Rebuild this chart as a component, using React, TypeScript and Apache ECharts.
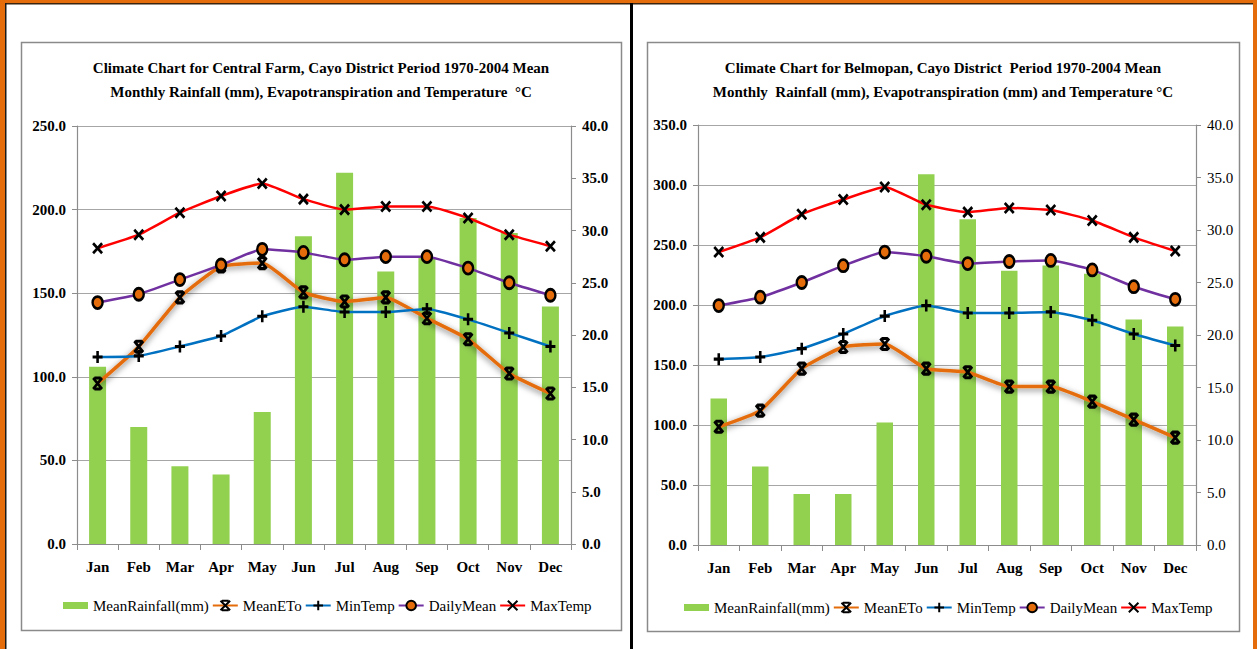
import React, { useEffect, useRef } from 'react';
import * as echarts from 'echarts';

// Months on the category axis
const months = ['Jan', 'Feb', 'Mar', 'Apr', 'May', 'Jun', 'Jul', 'Aug', 'Sep', 'Oct', 'Nov', 'Dec'];

// Central Farm, Cayo District (1970-2004)
const cfRainfall = [106, 70, 46.5, 41.5, 79, 184, 222, 163, 171, 195, 186, 142];
const cfEto = [96, 118, 147.5, 166, 168, 150.5, 145, 147.5, 135, 122.5, 102, 90];
const cfMinTemp = [17.9, 18.0, 18.9, 19.9, 21.8, 22.7, 22.2, 22.2, 22.5, 21.5, 20.2, 18.9];
const cfDailyMean = [23.1, 23.9, 25.3, 26.7, 28.2, 27.9, 27.2, 27.5, 27.5, 26.4, 25.0, 23.8];
const cfMaxTemp = [28.3, 29.6, 31.7, 33.3, 34.5, 33.0, 32.0, 32.3, 32.3, 31.2, 29.6, 28.5];

// Belmopan, Cayo District (1970-2004)
const bmRainfall = [122, 65.5, 42.5, 42.5, 102, 309, 271.5, 228.5, 233, 226, 188, 182];
const bmEto = [98.5, 112, 147, 165, 167.5, 147, 144, 132, 132, 119.5, 104.5, 89.5];
const bmMinTemp = [17.7, 17.9, 18.7, 20.1, 21.8, 22.8, 22.1, 22.1, 22.2, 21.4, 20.1, 19.0];
const bmDailyMean = [22.8, 23.6, 25.0, 26.6, 27.9, 27.5, 26.8, 27.0, 27.1, 26.2, 24.6, 23.4];
const bmMaxTemp = [27.9, 29.3, 31.5, 32.9, 34.1, 32.4, 31.7, 32.1, 31.9, 30.9, 29.3, 28.0];

// Axis ranges
const cfRainMax = 250;
const bmRainMax = 350;
const rainStep = 50;
const tempMax = 40;
const tempStep = 5;

const cfTitle = [
  'Climate Chart for Central Farm, Cayo District Period 1970-2004 Mean',
  'Monthly Rainfall (mm), Evapotranspiration and Temperature  °C',
];
const bmTitle = [
  'Climate Chart for Belmopan, Cayo District  Period 1970-2004 Mean',
  'Monthly  Rainfall (mm), Evapotranspiration (mm) and Temperature °C',
];

const SERIF = 'Liberation Serif';
const GREEN = '#92D050';
const ORANGE = '#E46C0A';
const PURPLE = '#7030A0';
const BLUE = '#0070C0';
const RED = '#FF0000';
const AXIS = '#8C8C8C';
const GRID = '#A6A6A6';

const X_MARK = 'path://M0,0 L10,10 M10,0 L0,10';
const PLUS_MARK = 'path://M5,0 L5,10 M0,5 L10,5';
const STAR_MARK = 'path://M0,0 L10,10 M10,0 L0,10 M1.5,0 L8.5,0 M1.5,10 L8.5,10';
const OVAL_MARK = 'path://M0,5 A5,5 0 1,1 10,5 A5,5 0 1,1 0,5 Z';
const BAR_ICON = 'path://M0,0 M25,12 M0,2.5 L25,2.5 L25,9.5 L0,9.5 Z';

const fmt = (v: number) => v.toFixed(1);

function buildSeries(
  idx: number,
  rain: number[],
  eto: number[],
  minT: number[],
  meanT: number[],
  maxT: number[],
  barWidth: number
) {
  const markStyle = { color: '#000', borderColor: '#000', borderWidth: 2.8 };
  return [
    {
      name: 'MeanRainfall(mm)',
      type: 'bar',
      xAxisIndex: idx,
      yAxisIndex: idx * 2,
      data: rain,
      barWidth,
      itemStyle: { color: GREEN },
      z: 1,
    },
    {
      name: 'MeanETo',
      type: 'line',
      xAxisIndex: idx,
      yAxisIndex: idx * 2,
      data: eto,
      smooth: 0.15,
      symbol: STAR_MARK,
      symbolSize: [9, 11],
      lineStyle: {
        color: ORANGE,
        width: 3.5,
        shadowColor: 'rgba(0,0,0,0.55)',
        shadowBlur: 6,
        shadowOffsetY: 2,
      },
      itemStyle: markStyle,
      z: 3,
    },
    {
      name: 'MinTemp',
      type: 'line',
      xAxisIndex: idx,
      yAxisIndex: idx * 2 + 1,
      data: minT,
      smooth: 0.15,
      symbol: PLUS_MARK,
      symbolSize: [10, 12],
      lineStyle: { color: BLUE, width: 2.5 },
      itemStyle: markStyle,
      z: 4,
    },
    {
      name: 'DailyMean',
      type: 'line',
      xAxisIndex: idx,
      yAxisIndex: idx * 2 + 1,
      data: meanT,
      smooth: 0.15,
      symbol: OVAL_MARK,
      symbolSize: [10, 12],
      lineStyle: { color: PURPLE, width: 2.5 },
      itemStyle: { color: ORANGE, borderColor: '#000', borderWidth: 2.6 },
      z: 5,
    },
    {
      name: 'MaxTemp',
      type: 'line',
      xAxisIndex: idx,
      yAxisIndex: idx * 2 + 1,
      data: maxT,
      smooth: 0.15,
      symbol: X_MARK,
      symbolSize: [9, 10],
      lineStyle: { color: RED, width: 2.5 },
      itemStyle: markStyle,
      z: 6,
    },
  ];
}

function leftAxis(gridIndex: number, max: number) {
  return {
    type: 'value',
    gridIndex,
    position: 'left',
    min: 0,
    max,
    interval: rainStep,
    axisLine: { show: true, lineStyle: { color: AXIS, width: 1.2 } },
    axisTick: { show: true, length: 5, lineStyle: { color: AXIS } },
    splitLine: { show: true, lineStyle: { color: GRID, width: 1.2 } },
    axisLabel: {
      formatter: fmt,
      margin: 11,
      fontFamily: SERIF,
      fontSize: 15,
      fontWeight: 'bold',
      color: '#000',
    },
  };
}

function rightAxis(gridIndex: number, weight: string) {
  return {
    type: 'value',
    gridIndex,
    position: 'right',
    min: 0,
    max: tempMax,
    interval: tempStep,
    axisLine: { show: true, lineStyle: { color: AXIS, width: 1.2 } },
    axisTick: { show: true, length: 5, lineStyle: { color: AXIS } },
    splitLine: { show: false },
    axisLabel: {
      formatter: fmt,
      margin: 11,
      fontFamily: SERIF,
      fontSize: 15,
      fontWeight: weight,
      color: '#000',
    },
  };
}

function monthAxis(gridIndex: number) {
  return {
    type: 'category',
    gridIndex,
    data: months,
    boundaryGap: true,
    axisLine: { show: true, lineStyle: { color: AXIS, width: 1.2 } },
    axisTick: { show: true, length: 6, lineStyle: { color: AXIS } },
    axisLabel: {
      margin: 15,
      fontFamily: SERIF,
      fontSize: 15,
      fontWeight: 'bold',
      color: '#000',
    },
  };
}

function legend(left: number, top: number) {
  return {
    left,
    top,
    padding: 0,
    orient: 'horizontal',
    itemWidth: 25,
    itemHeight: 12,
    itemGap: 3,
    selectedMode: false,
    textStyle: { fontFamily: SERIF, fontSize: 15, color: '#000' },
    data: [
      { name: 'MeanRainfall(mm)', icon: BAR_ICON },
      { name: 'MeanETo' },
      { name: 'MinTemp' },
      { name: 'DailyMean' },
      { name: 'MaxTemp' },
    ],
  };
}

function titleLines(cx: number, lines: string[]) {
  return lines.map((t, i) => ({
    type: 'text',
    x: cx,
    y: 68 + i * 24,
    style: {
      text: t,
      fill: '#000',
      fontFamily: SERIF,
      fontSize: 15,
      fontWeight: 'bold',
      textAlign: 'center',
      textVerticalAlign: 'middle',
    },
    silent: true,
  }));
}

export default function App() {
  const ref = useRef<HTMLDivElement>(null);

  useEffect(() => {
    document.body.style.margin = '0';
    if (!ref.current) return;
    const chart = echarts.init(ref.current, undefined, { renderer: 'svg' });

    const option = {
      animation: false,
      backgroundColor: '#fff',
      grid: [
        { left: 77, top: 126, width: 494, height: 418 },
        { left: 698, top: 125, width: 498, height: 420 },
      ],
      xAxis: [monthAxis(0), monthAxis(1)],
      yAxis: [leftAxis(0, cfRainMax), rightAxis(0, 'bold'), leftAxis(1, bmRainMax), rightAxis(1, 'normal')],
      legend: [legend(63, 598), legend(684, 600)],
      series: [
        ...buildSeries(0, cfRainfall, cfEto, cfMinTemp, cfDailyMean, cfMaxTemp, 17),
        ...buildSeries(1, bmRainfall, bmEto, bmMinTemp, bmDailyMean, bmMaxTemp, 16.5),
      ],
      graphic: [
        // outer page border
        { type: 'rect', shape: { x: 0, y: 0, width: 1257, height: 3 }, style: { fill: ORANGE }, silent: true },
        { type: 'rect', shape: { x: 0, y: 0, width: 5, height: 649 }, style: { fill: ORANGE }, silent: true },
        { type: 'rect', shape: { x: 1253, y: 0, width: 4, height: 649 }, style: { fill: ORANGE }, silent: true },
        { type: 'rect', shape: { x: 5, y: 3, width: 1248, height: 1.5 }, style: { fill: '#3a2410' }, silent: true },
        { type: 'rect', shape: { x: 5, y: 3, width: 1.5, height: 646 }, style: { fill: '#1a1a1a' }, silent: true },
        // divider between the two panels
        { type: 'rect', shape: { x: 630, y: 3, width: 3, height: 646 }, style: { fill: '#000' }, silent: true },
        // chart frames
        {
          type: 'rect',
          shape: { x: 21.5, y: 42.5, width: 600, height: 588 },
          style: { fill: 'none', stroke: '#8A8A8A', lineWidth: 1.5 },
          silent: true,
        },
        {
          type: 'rect',
          shape: { x: 647.5, y: 42.5, width: 592, height: 589 },
          style: { fill: 'none', stroke: '#8A8A8A', lineWidth: 1.5 },
          silent: true,
        },
        ...titleLines(321, cfTitle),
        ...titleLines(943, bmTitle),
      ],
    };

    chart.setOption(option as any);
    return () => chart.dispose();
  }, []);

  return (
    <div
      ref={ref}
      style={{ position: 'absolute', left: 0, top: 0, width: 1257, height: 649 }}
    />
  );
}
